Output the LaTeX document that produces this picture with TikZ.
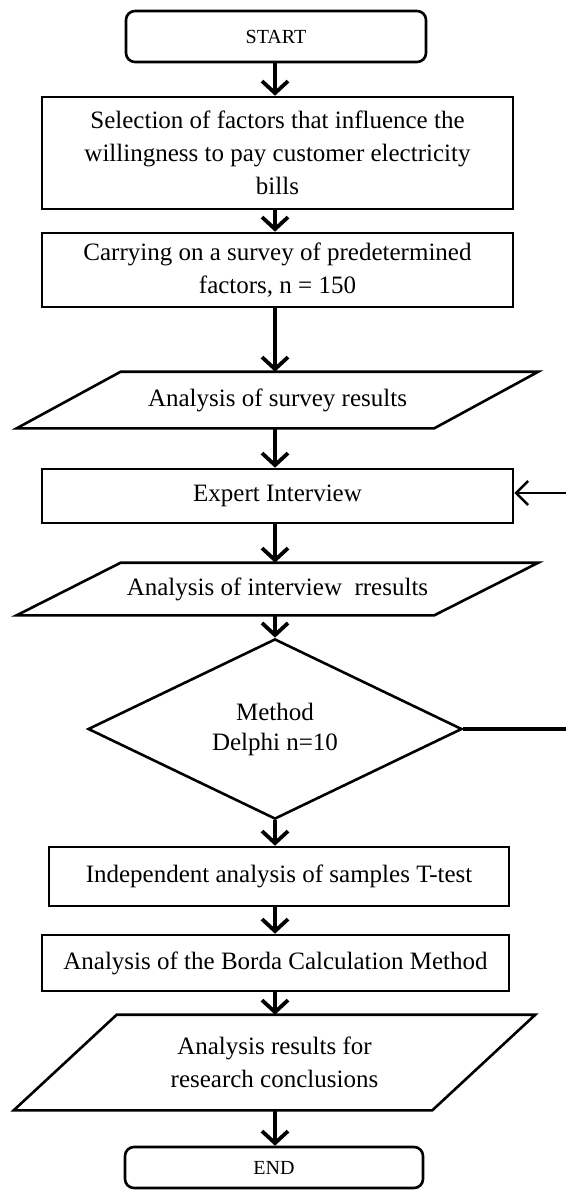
\documentclass[tikz,border=0pt]{standalone}
\usepackage{fontspec}
\setmainfont{Liberation Serif}
\usetikzlibrary{arrows.meta,shapes.geometric,calc}
\begin{document}
\begin{tikzpicture}[x=1pt,y=-1pt,
  bodyfont/.style={font=\fontsize{25}{33}\selectfont},
  boxst/.style={draw, line width=2.6pt, rectangle, align=center, inner sep=0pt, bodyfont},
  termst/.style={draw, line width=2.6pt, rounded corners=9pt, rectangle, inner sep=0pt, font=\fontsize{20}{24}\selectfont},
  parast/.style={rectangle, align=center, inner sep=0pt, outer sep=1.3pt, bodyfont},
  parline/.style={line width=2.6pt, line join=miter},
  diast/.style={draw, diamond, line width=2.6pt, align=center, inner sep=0pt, bodyfont},
  arr/.style={line width=3.8pt, -{Straight Barb[length=12pt,width=26pt]}},
  arrin/.style={line width=2.6pt, -{Straight Barb[length=12pt,width=24pt]}},
  thickln/.style={line width=4.5pt}
]
\useasboundingbox (0,0) rectangle (566,1191);
\coordinate (ax) at (275,0);

\node[termst, minimum width=300pt, minimum height=51pt] (start) at (276,36.5) {START};
\node[boxst, minimum width=471pt, minimum height=112pt] (b1) at (277.5,153)
  {Selection of factors that influence the\\willingness to pay customer electricity\\bills};
\node[boxst, minimum width=471pt, minimum height=74pt] (b2) at (277.5,270)
  {Carrying on a survey of predetermined\\factors, n = 150};
\node[parast, minimum width=519pt, minimum height=54pt] (p1) at (277.5,400) {Analysis of survey results};
\draw[parline] ($(p1.north west)+(104,0)$) -- (p1.north east) -- ($(p1.south east)+(-104,0)$) -- (p1.south west) -- cycle;
\node[boxst, minimum width=471pt, minimum height=54pt] (exp) at (277.5,496) {Expert Interview};
\node[parast, minimum width=519pt, minimum height=50pt] (p2) at (277.5,589) {Analysis of interview\ \ rresults};
\draw[parline] ($(p2.north west)+(104,0)$) -- (p2.north east) -- ($(p2.south east)+(-104,0)$) -- (p2.south west) -- cycle;
\node[diast, minimum width=374pt, minimum height=162pt] (dia) at (275,729) {\\[-14pt]Method\\[-3pt]Delphi n=10};
\node[boxst, minimum width=460pt, minimum height=59pt] (ind) at (279,876.5) {Independent analysis of samples T-test};
\node[boxst, minimum width=467pt, minimum height=56pt] (bor) at (275.5,963) {Analysis of the Borda Calculation Method};
\node[parast, minimum width=519pt, minimum height=93pt] (p3) at (274.5,1062.5) {Analysis results for\\research conclusions};
\draw[parline] ($(p3.north west)+(103,0)$) -- (p3.north east) -- ($(p3.south east)+(-103,0)$) -- (p3.south west) -- cycle;
\node[termst, minimum width=298pt, minimum height=41pt] (end) at (274,1167.5) {END};

\draw[arr] (start.south -| ax) -- (b1.north -| ax);
\draw[arr] (b1.south -| ax) -- (b2.north -| ax);
\draw[arr] (b2.south -| ax) -- (p1.north -| ax);
\draw[arr] (p1.south -| ax) -- (exp.north -| ax);
\draw[arr] (exp.south -| ax) -- (p2.north -| ax);
\draw[arr] (p2.south -| ax) -- (dia.north -| ax);
\draw[arr] (dia.south -| ax) -- (ind.north -| ax);
\draw[arr] (ind.south -| ax) -- (bor.north -| ax);
\draw[arr] (bor.south -| ax) -- (p3.north -| ax);
\draw[arr] (p3.south -| ax) -- (end.north -| ax);

\coordinate (rin) at (566,493);
\coordinate (rout) at (566,733);
\draw[arrin] (rin) -- (exp.east |- rin);
\draw[thickln] (dia.east) -- (dia.east -| rout);
\end{tikzpicture}
\end{document}
